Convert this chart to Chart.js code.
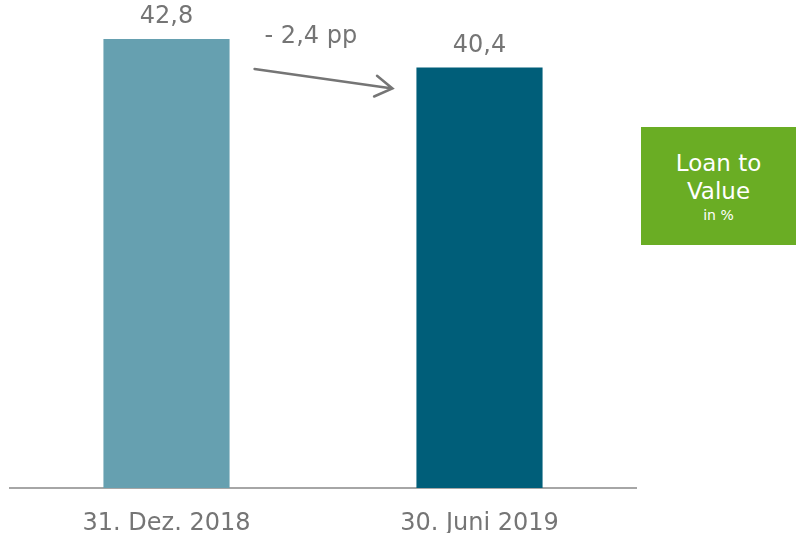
<!DOCTYPE html>
<html>
<head>
<meta charset="utf-8">
<script src="https://cdn.jsdelivr.net/npm/chart.js@4"></script>
<style>
    html, body { margin: 0; padding: 0; background: #fff; }
    #wrap { position: relative; width: 796px; height: 533px; }
    #legendBox {
        position: absolute; left: 641px; top: 127px; width: 155px; height: 118px;
        background: #6aad24; color: #fff; font-family: "DejaVu Sans", Verdana, sans-serif;
        text-align: center; box-sizing: border-box; padding-top: 22px;
    }
    #legendBox .big { font-size: 23px; line-height: 28px; }
    #legendBox .small { font-size: 14px; line-height: 20px; }
</style>
</head>
<body>
<div id="wrap">
    <canvas id="grafico" width="796" height="533"></canvas>
    <div id="legendBox"><div class="big">Loan to<br>Value</div><div class="small">in %</div></div>
</div>
<script>
// Dados
const categorias = ['31. Dez. 2018', '30. Juni 2019'];
const valores = [42.8, 40.4];
const rotulos = ['42,8', '40,4'];
const variacao = '- 2,4 pp';
const cores = ['#66a0b0', '#005e79'];

const corTexto = '#757575';
const fonte = '"DejaVu Sans", Verdana, sans-serif';

// Rótulos e seta entre as barras
const anotacoes = {
    id: 'anotacoes',
    afterDatasetsDraw(chart) {
        const ctx = chart.ctx;
        const barras = chart.getDatasetMeta(0).data;
        ctx.save();
        ctx.fillStyle = corTexto;
        ctx.font = '24px ' + fonte;
        ctx.textAlign = 'center';
        ctx.textBaseline = 'alphabetic';
        barras.forEach((b, i) => {
            ctx.fillText(rotulos[i], b.x, b.y - 16);
        });

        const b1 = barras[0], b2 = barras[1];
        const dir1 = b1.x + b1.width / 2;
        const esq2 = b2.x - b2.width / 2;

        ctx.textAlign = 'left';
        ctx.fillText(variacao, dir1 + 35, b1.y + 4);

        // seta
        const x0 = dir1 + 25, y0 = b1.y + 30;
        const x1 = esq2 - 24, y1 = b2.y + 21;
        const ang = Math.atan2(y1 - y0, x1 - x0);
        ctx.strokeStyle = corTexto;
        ctx.lineWidth = 2.5;
        ctx.lineCap = 'round';
        ctx.beginPath();
        ctx.moveTo(x0, y0);
        ctx.lineTo(x1, y1);
        ctx.moveTo(x1 - 20 * Math.cos(ang - 0.55), y1 - 20 * Math.sin(ang - 0.55));
        ctx.lineTo(x1, y1);
        ctx.lineTo(x1 - 20 * Math.cos(ang + 0.55), y1 - 20 * Math.sin(ang + 0.55));
        ctx.stroke();
        ctx.restore();
    }
};

const ctxGrafico = document.getElementById('grafico').getContext('2d');
new Chart(ctxGrafico, {
    type: 'bar',
    data: {
        labels: categorias,
        datasets: [{
            data: valores,
            backgroundColor: cores,
            borderWidth: 0,
            categoryPercentage: 1,
            barPercentage: 0.403
        }]
    },
    options: {
        responsive: false,
        animation: false,
        layout: { padding: { left: 10, right: 160, top: 1, bottom: 0 } },
        plugins: { legend: { display: false }, tooltip: { enabled: false } },
        scales: {
            x: {
                grid: { display: false, drawTicks: false },
                border: { display: true, color: '#a6a6a6', width: 2 },
                ticks: { color: corTexto, font: { family: fonte, size: 24 }, padding: 21 },
                afterFit(scale) { scale.height = 45; }
            },
            y: {
                display: false,
                min: 5,
                max: 46
            }
        }
    },
    plugins: [anotacoes]
});
</script>
</body>
</html>
